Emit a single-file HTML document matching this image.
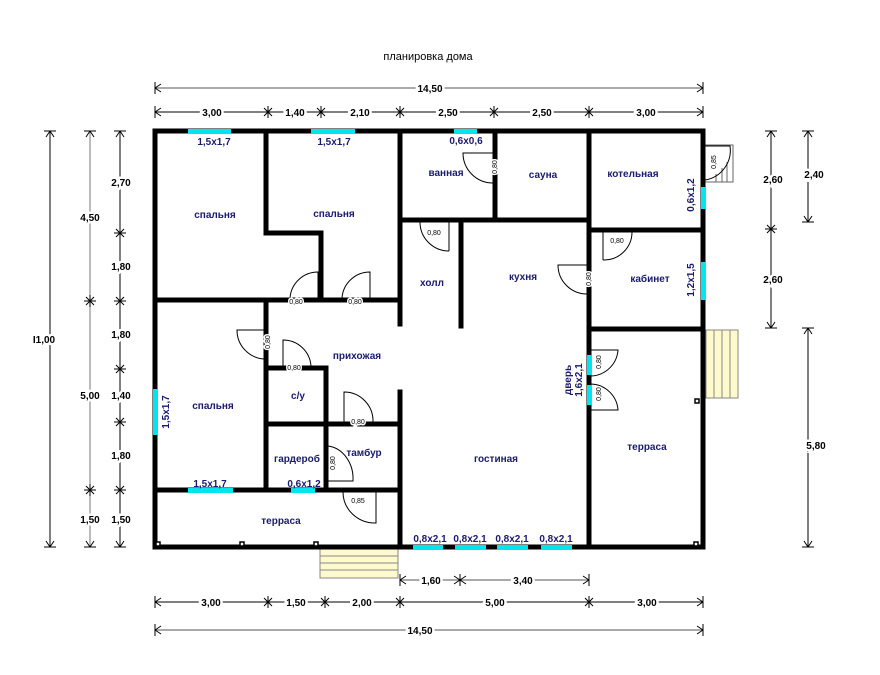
<!DOCTYPE html>
<html><head><meta charset="utf-8"><style>
html,body{margin:0;padding:0;background:#fff}
svg{display:block}
.l{font-family:"Liberation Sans",sans-serif;font-weight:bold;font-size:10px;fill:#1a1a6e}
.d{font-family:"Liberation Sans",sans-serif;font-weight:bold;font-size:10px;fill:#000;paint-order:stroke;stroke:#fff;stroke-width:5px}
.s{font-family:"Liberation Sans",sans-serif;font-size:7px;fill:#000;paint-order:stroke;stroke:#fff;stroke-width:3px}
</style></head><body>
<svg width="880" height="675" viewBox="0 0 880 675" xmlns="http://www.w3.org/2000/svg">
<defs>
<g id="st"><line x1="0" y1="-6" x2="0" y2="6"/><line x1="-6" y1="0" x2="6" y2="0"/><line x1="-4" y1="-4" x2="4" y2="4"/><line x1="-4" y1="4" x2="4" y2="-4"/></g>
</defs>
<text x="428" y="60" text-anchor="middle" font-family="Liberation Sans,sans-serif" font-size="11">планировка дома</text>

<g stroke="#000" stroke-width="1" fill="none">
<line x1="155" y1="88" x2="703" y2="88" stroke="#555"/>
<line x1="155" y1="112" x2="703" y2="112"/>
<line x1="400" y1="580" x2="589" y2="580" stroke="#555"/>
<line x1="155" y1="602" x2="703" y2="602"/>
<line x1="155" y1="630" x2="703" y2="630" stroke="#555"/>
<line x1="50" y1="131" x2="50" y2="547"/>
<line x1="90" y1="131" x2="90" y2="547" stroke="#777"/>
<line x1="120" y1="131" x2="120" y2="547"/>
<line x1="771" y1="131" x2="771" y2="328"/>
<line x1="808" y1="131" x2="808" y2="222"/>
<line x1="808" y1="328" x2="808" y2="547"/>
<path d="M155 82v12M155 88l6-4M155 88l6 4M703 82v12M703 88l-6-4M703 88l-6 4"/>
<path d="M155 106v12M155 112l6-4M155 112l6 4M703 106v12M703 112l-6-4M703 112l-6 4"/>
<path d="M400 574v12M400 580l6-4M400 580l6 4M589 574v12M589 580l-6-4M589 580l-6 4M460 574v12M460 580l-6-4M460 580l-6 4M460 580l6-4M460 580l6 4"/>
<path d="M155 596v12M155 602l6-4M155 602l6 4M703 596v12M703 602l-6-4M703 602l-6 4"/>
<path d="M155 624v12M155 630l6-4M155 630l6 4M703 624v12M703 630l-6-4M703 630l-6 4"/>
<path d="M44 131h12M50 131l-4 6M50 131l4 6M44 547h12M50 547l-4-6M50 547l4-6"/>
<path d="M84 131h12M90 131l-4 6M90 131l4 6M84 547h12M90 547l-4-6M90 547l4-6"/>
<path d="M114 131h12M120 131l-4 6M120 131l4 6M114 547h12M120 547l-4-6M120 547l4-6"/>
<path d="M765 131h12M771 131l-4 6M771 131l4 6M765 328h12M771 328l-4-6M771 328l4-6"/>
<path d="M802 131h12M808 131l-4 6M808 131l4 6M802 222h12M808 222l-4-6M808 222l4-6"/>
<path d="M802 328h12M808 328l-4 6M808 328l4 6M802 547h12M808 547l-4-6M808 547l4-6"/>
</g>
<g stroke="#000" stroke-width="1">
<use href="#st" x="268" y="112"/><use href="#st" x="321" y="112"/><use href="#st" x="400" y="112"/><use href="#st" x="494" y="112"/><use href="#st" x="589" y="112"/>
<use href="#st" x="268" y="602"/><use href="#st" x="325" y="602"/><use href="#st" x="400" y="602"/><use href="#st" x="589" y="602"/>
<use href="#st" x="90" y="301"/><use href="#st" x="90" y="490"/>
<use href="#st" x="120" y="233"/><use href="#st" x="120" y="301"/><use href="#st" x="120" y="369"/><use href="#st" x="120" y="422"/><use href="#st" x="120" y="490"/>
<use href="#st" x="771" y="229"/>
</g>
<g class="d" text-anchor="middle">
<text x="430" y="92">14,50</text>
<text x="212" y="116">3,00</text><text x="295" y="116">1,40</text><text x="360" y="116">2,10</text><text x="448" y="116">2,50</text><text x="542" y="116">2,50</text><text x="646" y="116">3,00</text>
<text x="431" y="584">1,60</text><text x="523" y="584">3,40</text>
<text x="211" y="606">3,00</text><text x="296" y="606">1,50</text><text x="362" y="606">2,00</text><text x="495" y="606">5,00</text><text x="647" y="606">3,00</text>
<text x="420" y="634">14,50</text>
<text x="44" y="343">I1,00</text>
<text x="90" y="221">4,50</text><text x="90" y="399">5,00</text><text x="90" y="523">1,50</text>
<text x="121" y="186">2,70</text><text x="121" y="270">1,80</text><text x="121" y="338">1,80</text><text x="121" y="399">1,40</text><text x="121" y="459">1,80</text><text x="121" y="523">1,50</text>
<text x="773" y="183">2,60</text><text x="773" y="283">2,60</text>
<text x="814" y="178">2,40</text><text x="816" y="449">5,80</text>
</g>

<g stroke="#888" stroke-width="1" fill="#fffacd">
<rect x="320" y="549" width="78" height="29"/>
<line x1="320" y1="556" x2="398" y2="556"/><line x1="320" y1="563" x2="398" y2="563"/><line x1="320" y1="570" x2="398" y2="570"/>
<rect x="706" y="330" width="32" height="68"/>
<line x1="714" y1="330" x2="714" y2="398"/><line x1="722" y1="330" x2="722" y2="398"/><line x1="730" y1="330" x2="730" y2="398"/>
<path d="M703 145h30v37h-30z" fill="#fff" stroke="#666"/>
<path d="M716 182v-8M722 182v-14M727 182v-20" stroke="#666"/>
</g>
<path d="M705 146h25a30 30 0 0 1 -25 34" fill="none" stroke="#000"/>

<g stroke="#000" stroke-width="5" fill="none" stroke-linecap="square">
<rect x="155" y="131" width="548" height="416"/>
<path d="M266 131V233H321V300"/>
<path d="M155 300H400"/>
<path d="M400 131V324"/>
<path d="M400 392V547"/>
<path d="M495 131V218"/>
<path d="M400 220H589"/>
<path d="M461 222V326"/>
<path d="M589 131V547"/>
<path d="M589 230H703"/>
<path d="M589 329H703"/>
<path d="M266 300V490"/>
<path d="M155 490H400"/>
<path d="M326 368V490"/>
<path d="M266 368H326"/>
<path d="M266 424H400"/>
</g>
<g fill="#fff" stroke="#000" stroke-width="1.5">
<rect x="156" y="542" width="4" height="4"/><rect x="240" y="542" width="4" height="4"/><rect x="314" y="542" width="4" height="4"/><rect x="694" y="542" width="4" height="4"/><rect x="695" y="399" width="4" height="4"/>
</g>

<g fill="#00e5ee">
<rect x="188" y="129" width="43" height="5"/><rect x="311" y="129" width="44" height="5"/><rect x="454" y="129" width="23" height="5"/>
<rect x="153" y="389" width="5" height="46"/>
<rect x="188" y="488" width="45" height="5"/><rect x="291" y="488" width="24" height="5"/>
<rect x="413" y="545" width="30" height="5"/><rect x="455" y="545" width="31" height="5"/><rect x="497" y="545" width="31" height="5"/><rect x="541" y="545" width="31" height="5"/>
<rect x="701" y="187" width="5" height="22"/><rect x="701" y="262" width="5" height="38"/>
<rect x="587" y="355" width="5" height="20"/><rect x="587" y="385" width="5" height="20"/>
</g>

<g stroke="#000" stroke-width="1" fill="none">
<path d="M318 298V272A28 28 0 0 0 290 298"/>
<path d="M370 298V272A28 28 0 0 0 342 298"/>
<path d="M264 330H237A29 29 0 0 0 264 359"/>
<path d="M283 366V340A28 28 0 0 1 311 366"/>
<path d="M344 422V392A29 29 0 0 1 373 422"/>
<path d="M324 446V481M328 446A28 33 0 0 1 353 481H328"/>
<path d="M376 492V523A32 31 0 0 1 343 492"/>
<path d="M493 183V153H463A30 30 0 0 0 493 183"/>
<path d="M449 251V222H420A29 29 0 0 0 449 251"/>
<path d="M587 294V265H558A29 29 0 0 0 587 294"/>
<path d="M603 260V232H632A28 28 0 0 1 603 260"/>
<path d="M591 350H618A28 28 0 0 1 591 376"/>
<path d="M591 410H618A28 28 0 0 0 591 384"/>
</g>
<g class="s" text-anchor="middle">
<text x="296" y="304">0,80</text><text x="355" y="304">0,80</text>
<text x="294" y="370">0,80</text><text x="358" y="424">0,80</text>
<text x="358" y="503">0,85</text><text x="434" y="235">0,80</text><text x="617" y="243">0,80</text>
<text transform="translate(270,342) rotate(-90)">0,80</text>
<text transform="translate(335,463) rotate(-90)">0,80</text>
<text transform="translate(497,167) rotate(-90)">0,80</text>
<text transform="translate(591,279) rotate(-90)">0,80</text>
<text transform="translate(601,362) rotate(-90)">0,80</text>
<text transform="translate(601,394) rotate(-90)">0,80</text>
<text transform="translate(716,162) rotate(-90)">0,85</text>
</g>

<g class="l" text-anchor="middle">
<text x="215" y="218">спальня</text><text x="334" y="217">спальня</text>
<text x="446" y="176">ванная</text><text x="543" y="178">сауна</text><text x="633" y="177">котельная</text>
<text x="432" y="286">холл</text><text x="523" y="280">кухня</text><text x="650" y="282">кабинет</text>
<text x="357" y="359">прихожая</text><text x="298" y="399">с/у</text><text x="213" y="409">спальня</text>
<text x="364" y="456">тамбур</text><text x="297" y="462">гардероб</text><text x="496" y="462">гостиная</text>
<text x="281" y="524">терраса</text><text x="647" y="450">терраса</text>
<text x="214" y="145">1,5x1,7</text><text x="334" y="145">1,5x1,7</text><text x="466" y="144">0,6x0,6</text>
<text x="210" y="487">1,5x1,7</text><text x="304" y="487">0,6x1,2</text>
<text x="430" y="542">0,8x2,1</text><text x="470" y="542">0,8x2,1</text><text x="512" y="542">0,8x2,1</text><text x="556" y="542">0,8x2,1</text>
<text transform="translate(169,412) rotate(-90)">1,5x1,7</text>
<text transform="translate(694,195) rotate(-90)">0,6x1,2</text>
<text transform="translate(694,280) rotate(-90)">1,2x1,5</text>
<text transform="translate(571,380) rotate(-90)">дверь</text>
<text transform="translate(582,380) rotate(-90)">1,6x2,1</text>
</g>
</svg>
</body></html>
